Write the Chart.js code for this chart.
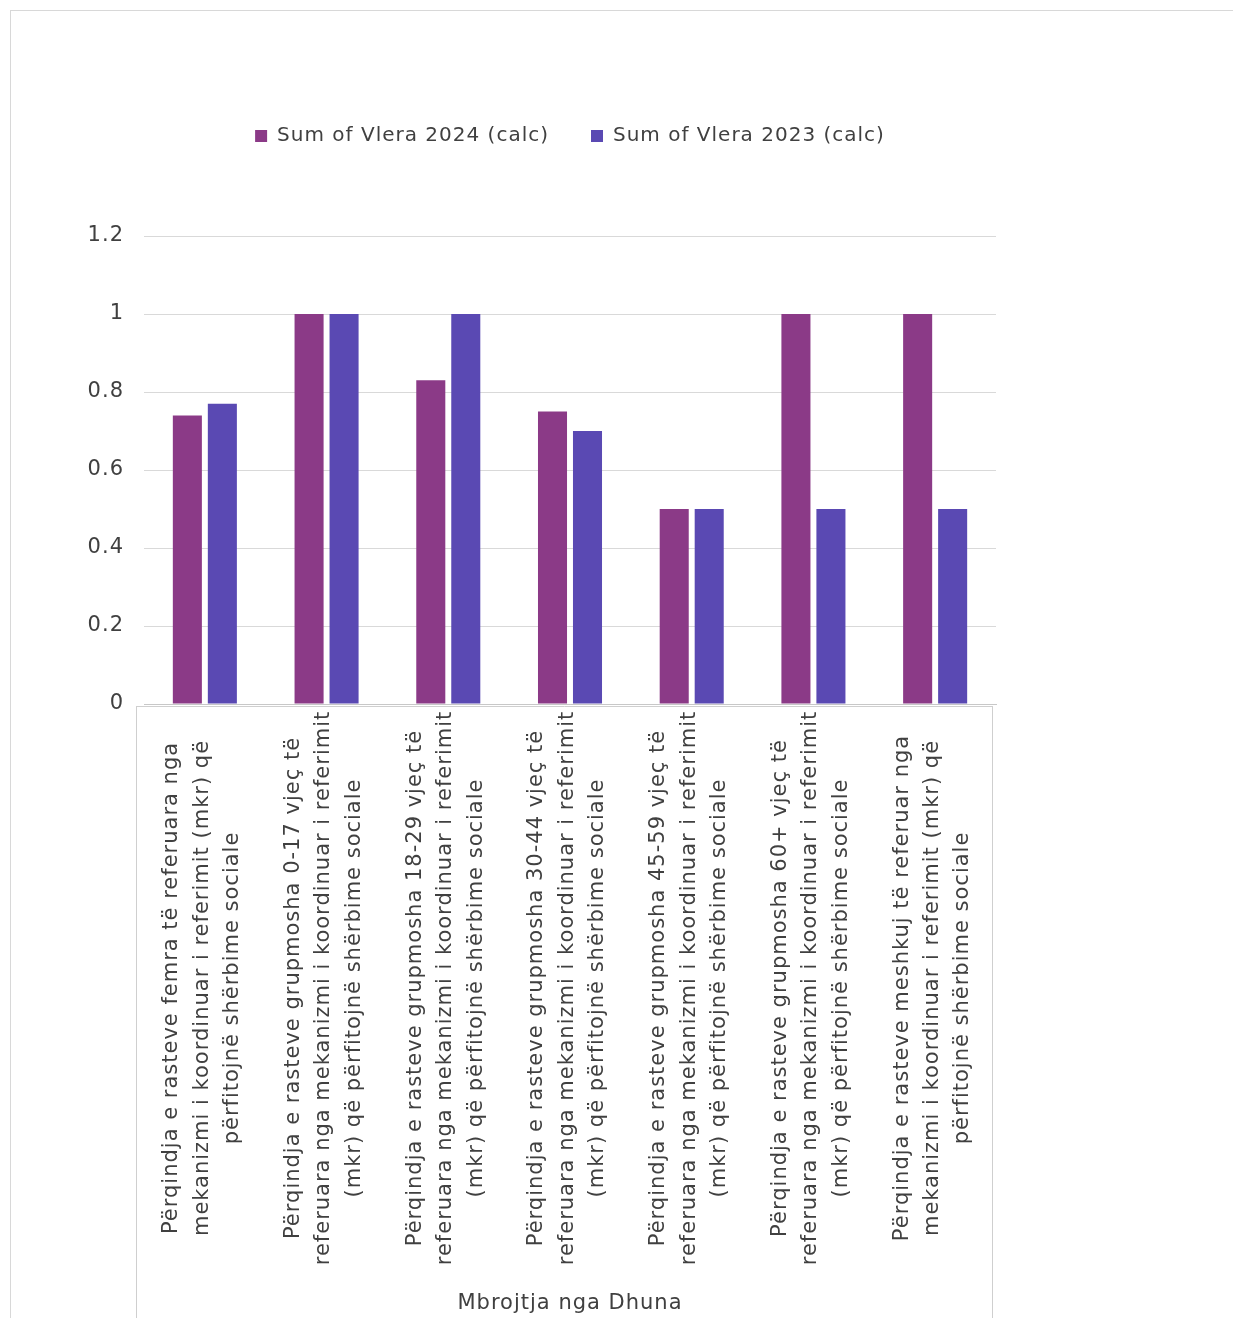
<!DOCTYPE html>
<html>
<head>
<meta charset="utf-8">
<script src="https://cdn.jsdelivr.net/npm/chart.js@4.4.1/dist/chart.umd.min.js"></script>
<style>
  html, body { margin: 0; padding: 0; background: #ffffff; }
  #wrap { width: 1233px; height: 1318px; }
</style>
</head>
<body>
<div id="wrap"><canvas id="c" width="1233" height="1318"></canvas></div>
<script>
const categories = [
  ["Përqindja e rasteve femra të referuara nga", "mekanizmi i koordinuar i referimit (mkr) që", "përfitojnë shërbime sociale"],
  ["Përqindja e rasteve grupmosha 0-17 vjeç të", "referuara nga mekanizmi i koordinuar i referimit", "(mkr) që përfitojnë shërbime sociale"],
  ["Përqindja e rasteve grupmosha 18-29 vjeç të", "referuara nga mekanizmi i koordinuar i referimit", "(mkr) që përfitojnë shërbime sociale"],
  ["Përqindja e rasteve grupmosha 30-44 vjeç të", "referuara nga mekanizmi i koordinuar i referimit", "(mkr) që përfitojnë shërbime sociale"],
  ["Përqindja e rasteve grupmosha 45-59 vjeç të", "referuara nga mekanizmi i koordinuar i referimit", "(mkr) që përfitojnë shërbime sociale"],
  ["Përqindja e rasteve grupmosha 60+ vjeç të", "referuara nga mekanizmi i koordinuar i referimit", "(mkr) që përfitojnë shërbime sociale"],
  ["Përqindja e rasteve meshkuj të referuar nga", "mekanizmi i koordinuar i referimit (mkr) që", "përfitojnë shërbime sociale"]
];
const values2024 = [0.74, 1, 0.83, 0.75, 0.5, 1, 1];
const values2023 = [0.77, 1, 1, 0.70, 0.5, 0.5, 0.5];
const seriesNames = ["Sum of Vlera 2024 (calc)", "Sum of Vlera 2023 (calc)"];
const axisTitle = "Mbrojtja nga Dhuna";
const yMin = 0, yMax = 1.2, yStep = 0.2;

const FONT = "'DejaVu Sans', sans-serif";
const TEXT = "#404040";
const SPACING = '1px';

const framePlugin = {
  id: 'frame',
  beforeLayout(chart) { chart.ctx.letterSpacing = SPACING; },
  afterUpdate(chart) {
    const s = chart.scales.x;
    if (s) {
      s._getXAxisLabelAlignment = () => 'center';
      s._labelItems = null;
    }
  },
  beforeDraw(chart) {
    const ctx = chart.ctx;
    ctx.letterSpacing = SPACING;
    ctx.save();
    ctx.fillStyle = '#ffffff';
    ctx.fillRect(0, 0, chart.width, chart.height);
    ctx.strokeStyle = '#d8d8d8';
    ctx.lineWidth = 1;
    ctx.strokeRect(10.5, 10.5, chart.width - 6, chart.height + 20);
    ctx.restore();
  },
  afterDraw(chart) {
    const ctx = chart.ctx;
    const a = chart.chartArea;
    ctx.save();
    ctx.strokeStyle = '#cfcfcf';
    ctx.lineWidth = 1;
    ctx.beginPath();
    ctx.moveTo(a.left - 7.5, a.bottom + 2);
    ctx.lineTo(a.left - 7.5, chart.height);
    ctx.moveTo(a.right - 3.5, a.bottom + 2);
    ctx.lineTo(a.right - 3.5, chart.height);
    ctx.moveTo(a.left - 7.5, a.bottom + 2.5);
    ctx.lineTo(a.right - 3.5, a.bottom + 2.5);
    ctx.stroke();
    ctx.restore();
  }
};

new Chart(document.getElementById('c'), {
  type: 'bar',
  data: {
    labels: categories,
    datasets: [
      { label: seriesNames[0], data: values2024, backgroundColor: '#8B3A87', borderWidth: 0 },
      { label: seriesNames[1], data: values2023, backgroundColor: '#5A49B3', borderWidth: 0 }
    ]
  },
  options: {
    responsive: false,
    animation: false,
    devicePixelRatio: 1,
    layout: { padding: { top: 84, right: 237, bottom: 0, left: 0 } },
    datasets: { bar: { categoryPercentage: 0.575, barPercentage: 0.83 } },
    plugins: {
      legend: {
        position: 'top',
        fullSize: false,
        labels: {
          font: { family: FONT, size: 20 },
          color: TEXT,
          boxWidth: 12,
          boxHeight: 12,
          padding: 42
        }
      },
      subtitle: {
        display: true,
        text: '',
        weight: 500,
        font: { size: 10 },
        padding: { top: 33, bottom: 35 }
      },
      tooltip: { enabled: false }
    },
    scales: {
      x: {
        grid: { display: false, drawTicks: false },
        border: { display: true, color: '#c8c8c8', width: 1 },
        ticks: {
          autoSkip: false,
          minRotation: 90,
          maxRotation: 90,
          padding: 284,
          labelOffset: -33,
          color: TEXT,
          font: { family: FONT, size: 21, lineHeight: 1.45 }
        },
        title: {
          display: true,
          text: axisTitle,
          color: TEXT,
          font: { family: FONT, size: 21 },
          padding: { top: 0, bottom: 2 }
        },
        afterFit(scale) {
          scale.height = 614;
          scale.paddingLeft = 0;
          scale.paddingRight = 0;
        }
      },
      y: {
        min: yMin,
        max: yMax,
        grid: { color: '#d9d9d9', drawTicks: false },
        border: { display: false },
        ticks: {
          stepSize: yStep,
          padding: 20,
          color: TEXT,
          font: { family: FONT, size: 21 },
          callback: (v) => String(Number(v.toFixed(1)))
        },
        afterFit(scale) {
          scale.width = 144;
          scale.paddingTop = 0;
          scale.paddingBottom = 0;
        }
      }
    }
  },
  plugins: [framePlugin]
});
</script>
</body>
</html>
